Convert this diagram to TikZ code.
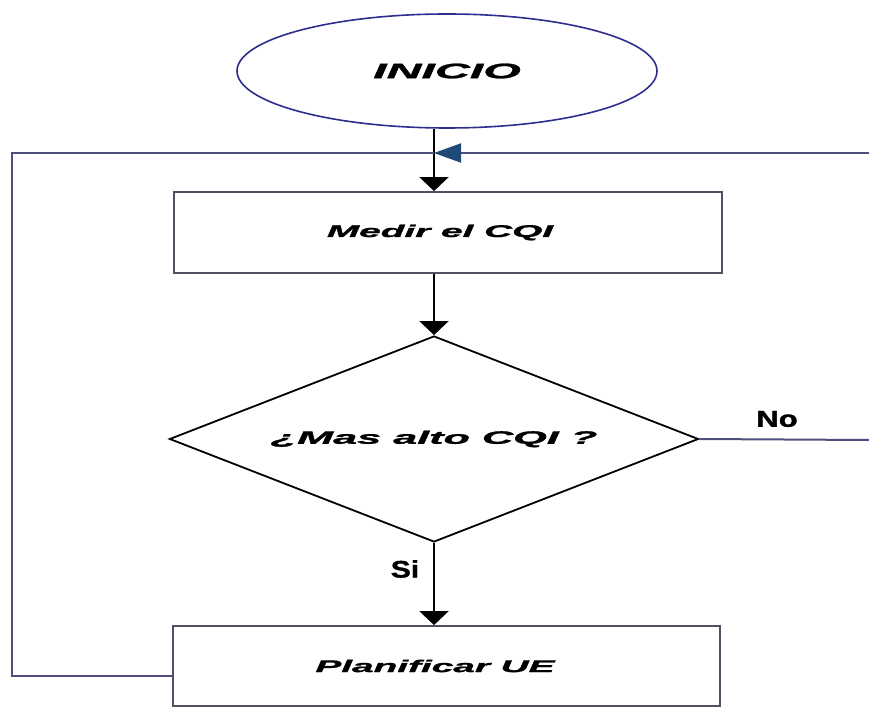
\documentclass[tikz,border=0pt]{standalone}
\usepackage{fontspec}
\setmainfont{Liberation Sans}
\newfontfamily\heavyfont{Liberation Sans}[BoldItalicFeatures={FakeBold=1.2}, BoldFeatures={FakeBold=1.2}]
\usepackage{graphicx}
\usetikzlibrary{shapes.geometric,arrows.meta}
\definecolor{ovalblue}{HTML}{2E2E8E}
\definecolor{boxgray}{HTML}{505062}
\definecolor{loopline}{HTML}{4E4E7E}
\definecolor{tipblue}{HTML}{1F4A78}
\newcommand{\widetext}[3]{{\fontsize{#1}{#1}\selectfont\scalebox{#2}[1]{#3}}}
\tikzset{
  base/.style={inner sep=0pt, font=\heavyfont\bfseries\itshape},
  terminal/.style={base, ellipse, draw=ovalblue, line width=1.6pt,
    minimum width=420pt, minimum height=114pt},
  process/.style={base, rectangle, draw=boxgray, line width=1.8pt},
  decision/.style={base, diamond, aspect=2.57, draw=black, line width=1.8pt,
    minimum width=529pt, minimum height=206pt},
  flow/.style={line width=1.8pt, black, -{Triangle[width=29pt,length=14pt]}},
  loop/.style={line width=2pt, loopline},
  answer/.style={inner sep=0pt, font=\heavyfont\bfseries}
}
\begin{document}
\begin{tikzpicture}[x=1pt,y=-1pt]
  \useasboundingbox (0,0) rectangle (869,708);

  % Flowchart nodes
  \node[terminal] (start) at (447,71) {\widetext{21}{2.3}{INICIO}};
  \node[process, minimum width=548pt, minimum height=81pt] (medir) at (448,232.5)
    {\hspace*{-16pt}\widetext{17}{2.28}{Medir el CQI}};
  \node[decision] (dec) at (434,439) {\widetext{18}{2.4}{¿Mas alto CQI ?}};
  \node[process, minimum width=547pt, minimum height=80pt] (plan) at (446.5,666)
    {\hspace*{-23pt}\widetext{17}{2.28}{Planificar UE}};

  % Loop corners and merge point
  \coordinate (m) at (434,153);
  \coordinate (lt) at (12,153);
  \coordinate (rt) at (869,153);
  \coordinate (rn) at (869,440);

  % Main flow
  \draw[flow] (start.south -| m) -- (m |- medir.north);
  \draw[flow] (medir.south -| dec.north) -- (dec.north);
  \draw[flow] (dec.south) -- (dec.south |- plan.north);

  % Return paths
  \draw[loop] ([yshift=-10pt]plan.west) -| (lt) -- (m);
  \draw[loop] (dec.east) -- (rn);
  \draw[loop, -{Triangle[width=19pt,length=27pt,color=tipblue]}] (rt) -- (m);

  % Branch labels
  \node[answer] (no) at (777,419) {\widetext{23}{1.35}{No}};
  \node[answer] (si) at (405,569) {\widetext{24}{1.25}{Si}};
\end{tikzpicture}
\end{document}
